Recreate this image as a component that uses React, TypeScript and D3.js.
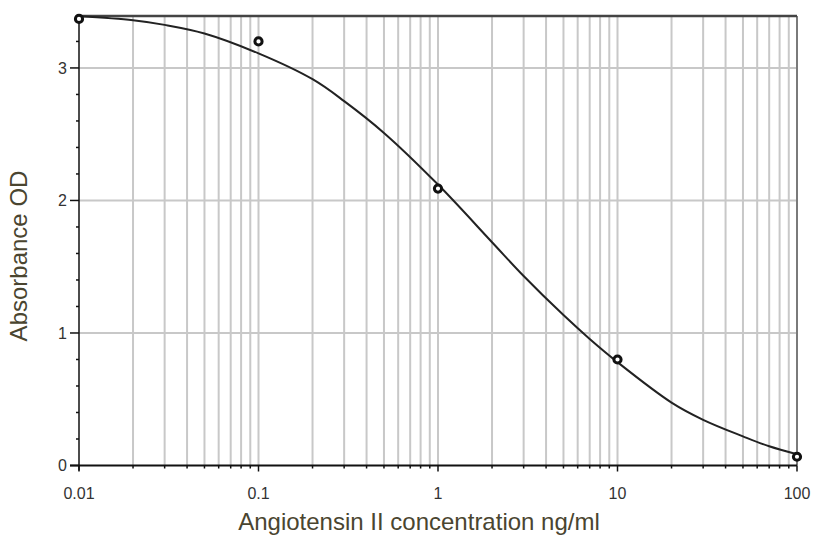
import React from "react";
import * as d3 from "d3";

const concentrations = [0.01, 0.1, 1, 10, 100];
const absorbance = [3.37, 3.2, 2.09, 0.8, 0.066];

const curveX = [0.01, 0.02, 0.03, 0.05, 0.1, 0.2, 0.3, 0.5, 1, 2, 3, 5, 7, 10, 20, 30, 50, 70, 100];
const curveY = [3.39, 3.36, 3.325, 3.26, 3.11, 2.915, 2.75, 2.51, 2.12, 1.685, 1.43, 1.135, 0.955, 0.78, 0.475, 0.345, 0.22, 0.145, 0.085];

const xTickLabels = ["0.01", "0.1", "1", "10", "100"];
const yTicks = [0, 1, 2, 3];

const W = 813;
const H = 535;
const left = 79;
const right = 797;
const top = 16;
const bottom = 465.5;

export default function App() {
  const x = d3.scaleLog().domain([0.01, 100]).range([left, right]);
  const y = d3.scaleLinear().domain([0, 3.392]).range([bottom, top]);

  const minorX: number[] = [];
  for (let e = -2; e < 2; e++) {
    for (let m = 2; m <= 9; m++) minorX.push(m * Math.pow(10, e));
  }
  const minorY = d3.range(0, 3.4, 0.2).filter((v) => Math.abs(v - Math.round(v)) > 1e-6);

  const line = d3
    .line<number>()
    .x((_, i) => x(curveX[i]))
    .y((d) => y(d))
    .curve(d3.curveCatmullRom.alpha(0.5));

  const font = "Arial, 'Liberation Sans', sans-serif";

  return (
    <svg width={W} height={H} style={{ position: "absolute", left: 0, top: 0, background: "#fff" }}>
      {[...minorX, 0.1, 1, 10].map((v, i) => (
        <line key={"gx" + i} x1={x(v)} x2={x(v)} y1={top} y2={bottom} stroke="#c8c8c8" strokeWidth={2} />
      ))}
      {[1, 2, 3].map((v) => (
        <line key={"gy" + v} x1={left} x2={right} y1={y(v)} y2={y(v)} stroke="#c8c8c8" strokeWidth={2} />
      ))}
      <line x1={right} x2={right} y1={top} y2={bottom} stroke="#7a7a7a" strokeWidth={2} />
      <line x1={left} x2={right} y1={top} y2={top} stroke="#444" strokeWidth={2.5} />
      <line x1={left} x2={left} y1={top} y2={bottom + 5} stroke="#111" strokeWidth={1.5} />
      <line x1={left - 9} x2={right} y1={bottom} y2={bottom} stroke="#111" strokeWidth={2} />
      {yTicks.map((v) => (
        <g key={"yt" + v}>
          <line x1={left - 9} x2={left} y1={y(v)} y2={y(v)} stroke="#111" strokeWidth={1.5} />
          <text x={left - 12} y={y(v)} dy="0.36em" textAnchor="end" fontSize={16} fill="#333" fontFamily={font}>
            {v}
          </text>
        </g>
      ))}
      {minorY.map((v, i) => (
        <line key={"ym" + i} x1={left - 3} x2={left} y1={y(v)} y2={y(v)} stroke="#111" strokeWidth={1.5} />
      ))}
      {concentrations.map((v, i) => (
        <g key={"xt" + i}>
          <line x1={x(v)} x2={x(v)} y1={bottom} y2={bottom + 6} stroke="#111" strokeWidth={1.5} />
          <text x={x(v)} y={bottom + 33.5} textAnchor="middle" fontSize={16} fill="#333" fontFamily={font}>
            {xTickLabels[i]}
          </text>
        </g>
      ))}
      {minorX.map((v, i) => (
        <line key={"xm" + i} x1={x(v)} x2={x(v)} y1={bottom} y2={bottom + 3} stroke="#111" strokeWidth={1.5} />
      ))}
      <path d={line(curveY) || ""} fill="none" stroke="#222" strokeWidth={2} />
      {concentrations.map((v, i) => (
        <circle key={"p" + i} cx={x(v)} cy={y(absorbance[i])} r={3.6} fill="#fff" stroke="#111" strokeWidth={3} />
      ))}
      <text x={419} y={530} textAnchor="middle" fontSize={24} fill="#4a4530" fontFamily={font}>
        Angiotensin II concentration ng/ml
      </text>
      <text
        transform={`translate(27,256) rotate(-90)`}
        textAnchor="middle"
        fontSize={24}
        fill="#4a4530"
        fontFamily={font}
      >
        Absorbance OD
      </text>
    </svg>
  );
}
